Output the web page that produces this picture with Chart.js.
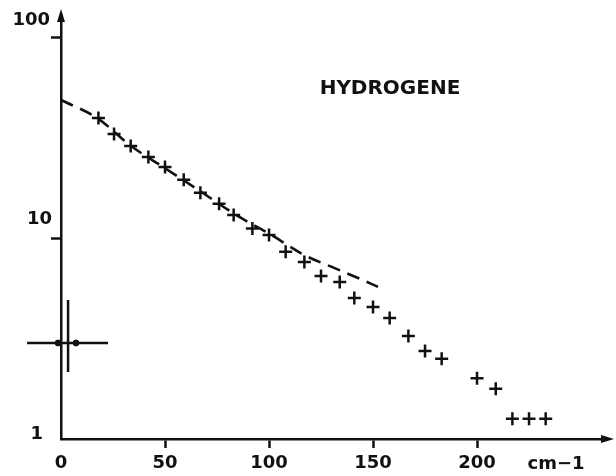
<!DOCTYPE html>
<html>
<head>
<meta charset="utf-8">
<script src="https://cdn.jsdelivr.net/npm/chart.js@4.4.1/dist/chart.umd.min.js"></script>
<style>
  html, body { margin: 0; padding: 0; background: #fff; }
</style>
</head>
<body>
<canvas id="chart" width="616" height="476"></canvas>
<script>
// measured points: wavenumber (cm-1) and intensity
const waveNumbers = [18, 25.5, 33.5, 42, 50, 59, 67, 76, 83, 92, 100, 108, 117, 125, 134, 141, 150, 158, 167, 175, 183, 200, 209, 217, 225, 233];
const intensities = [39.9, 33.2, 28.9, 25.5, 22.7, 19.6, 16.9, 14.9, 13.1, 11.2, 10.4, 8.57, 7.64, 6.5, 6.07, 5.05, 4.55, 4.01, 3.26, 2.75, 2.51, 2.01, 1.78, 1.26, 1.26, 1.26];

// dashed fit curve
const fitX = [0, 17.3, 33.7, 50, 67.3, 84.1, 100.5, 116.8, 131.3, 142.8, 152.4];
const fitY = [49, 39.9, 28.9, 22.4, 17.1, 13.1, 10.5, 8.28, 7.13, 6.35, 5.73];

// resolution cross near the origin
const resBarX = [-16.3, 22.6];
const resBarY = 3.01;
const resStemX = 3.4;
const resStemY = [4.93, 2.16];
const resDotsX = [-1.4, 7.2];

const xTicks = [0, 50, 100, 150, 200];
const yTicks = [1, 10, 100];
const xUnit = 'cm\u22121';
const gasName = 'HYDROGENE';

const INK = '#111';
const FONT = 'bold 18px "DejaVu Sans", sans-serif';

const pts = (xs, ys) => xs.map((x, i) => ({ x: x, y: ys[i] }));

// arrows, y labels, gas name, unit
const decorations = {
  id: 'decorations',
  afterDraw(chart) {
    const { ctx, chartArea, scales } = chart;
    const yS = scales.y;
    ctx.save();
    ctx.fillStyle = INK;

    // y axis arrow
    const ax = chartArea.left;
    ctx.beginPath();
    ctx.moveTo(ax, 9);
    ctx.lineTo(ax - 4, 22);
    ctx.lineTo(ax + 4, 22);
    ctx.closePath();
    ctx.fill();

    // x axis arrow
    const ay = chartArea.bottom;
    ctx.beginPath();
    ctx.moveTo(chartArea.right + 8, ay);
    ctx.lineTo(chartArea.right - 5, ay - 4);
    ctx.lineTo(chartArea.right - 5, ay + 4);
    ctx.closePath();
    ctx.fill();

    // y tick labels sit a little above their ticks
    ctx.font = FONT;
    ctx.textAlign = 'right';
    ctx.textBaseline = 'middle';
    const lift = { 1: -5, 10: -19, 100: -18 };
    const right = { 1: 43, 10: 52, 100: 50 };
    yTicks.forEach(v => {
      ctx.fillText(String(v), right[v], yS.getPixelForValue(v) + lift[v]);
    });

    ctx.textAlign = 'center';
    ctx.fillText(xUnit, 556, 464);

    ctx.font = 'bold 20px "DejaVu Sans", sans-serif';
    ctx.fillText(gasName, 390, 89);
    ctx.restore();
  }
};

new Chart(document.getElementById('chart'), {
  type: 'scatter',
  data: {
    datasets: [
      {
        data: pts(waveNumbers, intensities),
        pointStyle: 'cross',
        pointRadius: 6.5,
        borderColor: INK,
        borderWidth: 2.5
      },
      {
        data: pts(fitX, fitY),
        showLine: true,
        pointRadius: 0,
        borderColor: INK,
        borderWidth: 2.6,
        borderDash: [13, 8],
        cubicInterpolationMode: 'monotone'
      },
      {
        data: pts(resBarX, [resBarY, resBarY]),
        showLine: true,
        clip: false,
        pointRadius: 0,
        borderColor: INK,
        borderWidth: 2.5
      },
      {
        data: pts([resStemX, resStemX], resStemY),
        showLine: true,
        clip: false,
        pointRadius: 0,
        borderColor: INK,
        borderWidth: 2.5
      },
      {
        data: pts(resDotsX, [resBarY, resBarY]),
        clip: false,
        pointRadius: 3,
        pointStyle: 'circle',
        backgroundColor: INK,
        borderColor: INK,
        borderWidth: 1
      }
    ]
  },
  options: {
    responsive: false,
    animation: false,
    devicePixelRatio: 1,
    layout: { padding: { top: 15, right: 10, left: 0, bottom: 0 } },
    plugins: {
      legend: { display: false },
      tooltip: { enabled: false }
    },
    events: [],
    scales: {
      x: {
        type: 'linear',
        min: 0,
        max: 262,
        afterBuildTicks: s => { s.ticks = xTicks.map(v => ({ value: v })); },
        afterFit: s => { s.height = 37; },
        border: { display: true, color: INK, width: 2.5 },
        grid: {
          drawOnChartArea: false,
          tickLength: 9,
          tickWidth: 2.5,
          tickColor: c => (c.tick && c.tick.value === 0 ? 'rgba(0,0,0,0)' : INK)
        },
        ticks: {
          color: INK,
          font: { family: '"DejaVu Sans", sans-serif', size: 18, weight: 'bold' },
          padding: 5,
          maxRotation: 0
        }
      },
      y: {
        type: 'logarithmic',
        min: 1,
        max: 130,
        afterBuildTicks: s => { s.ticks = yTicks.map(v => ({ value: v })); },
        afterFit: s => { s.width = 61; },
        border: { display: true, color: INK, width: 2.5 },
        grid: {
          drawOnChartArea: false,
          tickLength: 10,
          tickWidth: 2.5,
          tickColor: c => (c.tick && c.tick.value === 1 ? 'rgba(0,0,0,0)' : INK)
        },
        ticks: { display: false }
      }
    }
  },
  plugins: [decorations]
});
</script>
</body>
</html>
